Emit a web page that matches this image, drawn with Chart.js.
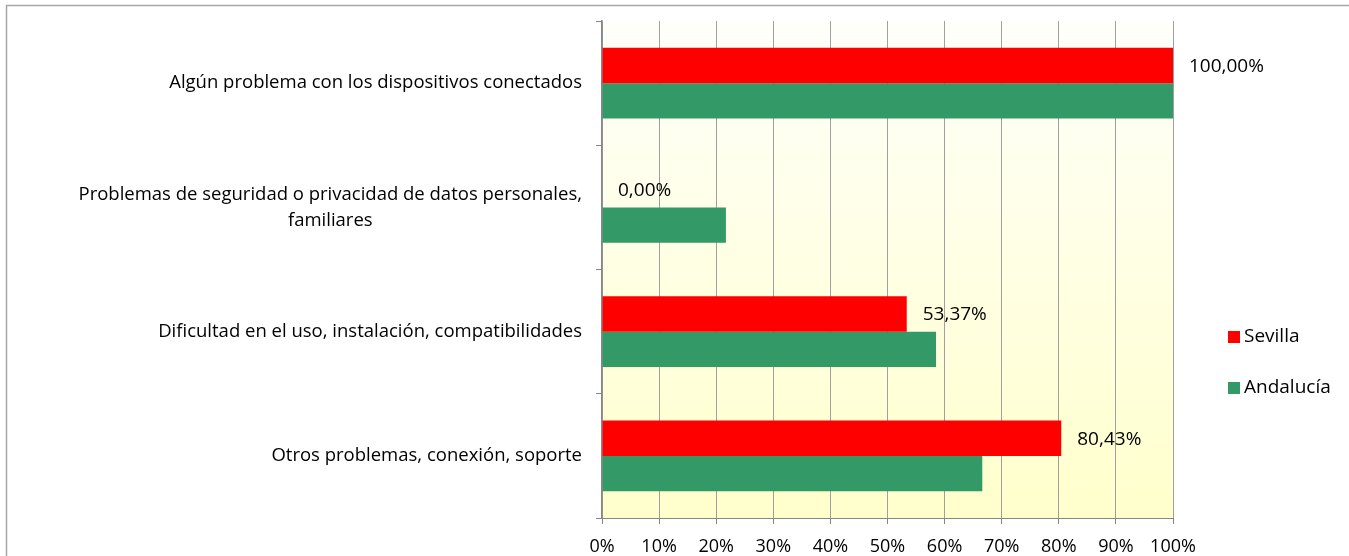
<!DOCTYPE html>
<html>
<head>
<meta charset="utf-8">
<script src="https://cdn.jsdelivr.net/npm/chart.js@4"></script>
<style>
  html, body { margin: 0; padding: 0; background: #fff; }
  #wrap { width: 1349px; height: 556px; position: relative; }
</style>
</head>
<body>
<div id="wrap"><canvas id="myChart" width="1349" height="556"></canvas></div>
<script>
const categories = [
  'Algún problema con los dispositivos conectados',
  ['Problemas de seguridad o privacidad de datos personales,', 'familiares'],
  'Dificultad en el uso, instalación, compatibilidades',
  'Otros problemas, conexión, soporte'
];
const sevilla = [100, 0, 53.37, 80.43];
const andalucia = [100, 21.7, 58.5, 66.6];
const seriesNames = ['Sevilla', 'Andalucía'];
const seriesColors = ['#ff0000', '#339966'];
const xTicks = [0, 10, 20, 30, 40, 50, 60, 70, 80, 90, 100];

const fontFamily = '"Open Sans", "Noto Sans", sans-serif';

// frame + plot background
const backdrop = {
  id: 'backdrop',
  beforeDraw(chart) {
    const ctx = chart.ctx;
    const a = chart.chartArea;
    ctx.save();
    ctx.strokeStyle = '#a6a6a6';
    ctx.lineWidth = 1.5;
    ctx.beginPath();
    ctx.moveTo(6.5, chart.height);
    ctx.lineTo(6.5, 5.5);
    ctx.lineTo(chart.width, 5.5);
    ctx.stroke();
    const g = ctx.createLinearGradient(0, a.top, 0, a.bottom);
    g.addColorStop(0, '#fffffb');
    g.addColorStop(1, '#ffffcc');
    ctx.fillStyle = g;
    ctx.fillRect(a.left, a.top, a.right - a.left, a.bottom - a.top);
    ctx.restore();
  }
};

// category labels, value labels, legend
const annotate = {
  id: 'annotate',
  afterDraw(chart) {
    const ctx = chart.ctx;
    const y = chart.scales.y;
    ctx.save();
    ctx.fillStyle = '#000';
    ctx.font = '18.5px ' + fontFamily;
    ctx.textBaseline = 'middle';

    categories.forEach(function(cat, i) {
      const py = y.getPixelForTick(i);
      const lines = Array.isArray(cat) ? cat : [cat];
      const widths = lines.map(function(l) { return ctx.measureText(l).width; });
      const maxW = Math.max.apply(null, widths);
      const right = y.left + y.width - 20;
      const lh = 26;
      lines.forEach(function(l, k) {
        const ly = py + (k - (lines.length - 1) / 2) * lh;
        ctx.textAlign = 'center';
        ctx.fillText(l, right - maxW / 2, ly);
      });
    });

    ctx.font = '19px ' + fontFamily;
    const meta = chart.getDatasetMeta(0);
    ctx.textAlign = 'left';
    meta.data.forEach(function(bar, i) {
      const txt = sevilla[i].toFixed(2).replace('.', ',') + '%';
      ctx.fillText(txt, bar.x + 16, bar.y + 1);
    });

    // legend
    const lx = 1228;
    const ly = [337, 388];
    chart.data.datasets.forEach(function(ds, i) {
      ctx.fillStyle = ds.backgroundColor;
      ctx.fillRect(lx, ly[i] - 6, 12, 12);
      ctx.fillStyle = '#000';
      ctx.fillText(ds.label, lx + 16, ly[i]);
    });
    ctx.restore();
  }
};

new Chart(document.getElementById('myChart'), {
  type: 'bar',
  data: {
    labels: categories,
    datasets: [
      { label: seriesNames[0], data: sevilla, backgroundColor: seriesColors[0], categoryPercentage: 0.57, barPercentage: 1.0 },
      { label: seriesNames[1], data: andalucia, backgroundColor: seriesColors[1], categoryPercentage: 0.57, barPercentage: 1.0 }
    ]
  },
  options: {
    indexAxis: 'y',
    responsive: false,
    animation: false,
    layout: { padding: { top: 21, right: 176, left: 0, bottom: 0 } },
    plugins: {
      legend: { display: false },
      tooltip: { enabled: false }
    },
    scales: {
      x: {
        min: 0,
        max: 100,
        afterBuildTicks: function(scale) {
          scale.ticks = xTicks.map(function(v) { return { value: v }; });
        },
        afterFit: function(scale) { scale.height = 38; },
        ticks: {
          color: '#000',
          font: { family: fontFamily, size: 18 },
          padding: 12,
          maxRotation: 0,
          callback: function(v) { return v + '%'; }
        },
        grid: { color: '#a0a0a0', lineWidth: 1, tickLength: 6, tickColor: '#868686' },
        border: { color: '#868686', width: 1 }
      },
      y: {
        afterFit: function(scale) { scale.width = 602; },
        ticks: { display: false },
        grid: { drawOnChartArea: false, tickLength: 6, tickColor: '#868686' },
        border: { color: '#868686', width: 1.5 }
      }
    }
  },
  plugins: [backdrop, annotate]
});
</script>
</body>
</html>
